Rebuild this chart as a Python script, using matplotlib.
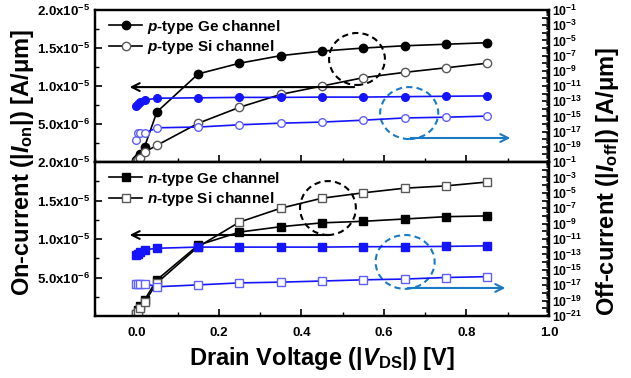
import matplotlib
matplotlib.use("Agg")
import matplotlib.pyplot as plt
from matplotlib.patches import Ellipse
from matplotlib.ticker import FixedLocator, MultipleLocator, LogLocator, NullFormatter

plt.rcParams['font.family'] = 'Liberation Sans'
plt.rcParams['font.weight'] = 'bold'
plt.rcParams['axes.labelweight'] = 'bold'
plt.rcParams['mathtext.fontset'] = 'custom'
plt.rcParams['mathtext.rm'] = 'Liberation Sans:bold'
plt.rcParams['mathtext.bf'] = 'Liberation Sans:bold'
plt.rcParams['mathtext.it'] = 'Liberation Sans:italic:bold'
plt.rcParams['mathtext.default'] = 'bf'

# drain voltage points (V)
vds = [0.0, 0.005, 0.01, 0.02, 0.05, 0.15, 0.25, 0.35, 0.45, 0.55, 0.65, 0.75, 0.85]

# p-type, on-current in units of 1e-5 A/um
p_ge_on = [0.02, 0.05, 0.10, 0.20, 0.66, 1.16, 1.30, 1.40, 1.46, 1.50, 1.53, 1.55, 1.57]
p_si_on = [0.00, 0.03, 0.05, 0.13, 0.22, 0.51, 0.72, 0.89, 1.00, 1.11, 1.18, 1.24, 1.30]
# p-type, off-current A/um
p_ge_off = [2.5e-14, 4.0e-14, 7.9e-14, 1.4e-13, 2.5e-13, 2.8e-13, 3.2e-13, 3.2e-13,
            3.5e-13, 3.5e-13, 4.0e-13, 4.5e-13, 5.0e-13]
p_si_off = [7.9e-19, 6.3e-18, 6.3e-18, 6.3e-18, 3.2e-17, 4.0e-17, 7.9e-17, 1.3e-16,
            1.8e-16, 3.2e-16, 6.3e-16, 7.9e-16, 1.1e-15]

# n-type
n_ge_on = [0.03, 0.08, 0.13, 0.21, 0.47, 0.92, 1.09, 1.16, 1.21, 1.23, 1.26, 1.29, 1.30]
n_si_on = [0.02, 0.05, 0.10, 0.18, 0.43, 0.90, 1.22, 1.40, 1.53, 1.60, 1.66, 1.69, 1.74]
n_ge_off = [7.9e-14, 1.3e-13, 2.0e-13, 4.0e-13, 6.3e-13, 8.9e-13, 8.9e-13, 8.9e-13,
            8.9e-13, 1.0e-12, 1.0e-12, 1.1e-12, 1.3e-12]
n_si_off = [1.6e-17, 1.6e-17, 1.6e-17, 1.6e-17, 6.3e-18, 1.1e-17, 2.0e-17, 2.5e-17,
            3.5e-17, 5.0e-17, 6.3e-17, 1.0e-16, 1.3e-16]

on_ticks = [0.0, 0.5, 1.0, 1.5, 2.0]
on_labels = ['', '5.0x10$^{-6}$', '1.0x10$^{-5}$', '1.5x10$^{-5}$', '2.0x10$^{-5}$']
off_exps = list(range(-21, 0))

fig = plt.figure(figsize=(6.31, 3.78), dpi=100)
ax_top = fig.add_axes([0.1506, 0.5714, 0.7195, 0.402])
ax_bot = fig.add_axes([0.1506, 0.164, 0.7195, 0.4074])

BLUE = '#1414ff'
ARROWBLUE = '#1a7ac4'


def style_panel(ax, show_x):
    ax.set_xlim(-0.1, 1.0)
    ax.set_ylim(0, 2.0)
    ax.yaxis.set_major_locator(FixedLocator(on_ticks))
    ax.set_yticklabels(on_labels, fontweight='bold')
    ax.yaxis.set_minor_locator(MultipleLocator(0.25))
    ax.xaxis.set_major_locator(MultipleLocator(0.2))
    ax.xaxis.set_minor_locator(MultipleLocator(0.1))
    ax.tick_params(axis='both', which='both', direction='in', top=False, right=False)
    ax.tick_params(axis='both', which='major', length=5, width=1.2, labelsize=9.5)
    ax.tick_params(axis='x', which='major', pad=8)
    ax.tick_params(axis='both', which='minor', length=3, width=1.0)
    if not show_x:
        ax.tick_params(axis='x', labelbottom=False)
    for t in ax.get_xticklabels():
        t.set_fontweight('bold')
    for s in ax.spines.values():
        s.set_linewidth(1.6)


def style_twin(tw, hide_bottom):
    tw.set_yscale('log')
    tw.set_ylim(1e-21, 1e-1)
    ticks = [10.0 ** e for e in off_exps]
    labels = []
    for e in off_exps:
        if e % 2 == 0 or (hide_bottom and e == -21):
            labels.append('')
        else:
            labels.append('10$^{%d}$' % e)
    tw.yaxis.set_major_locator(FixedLocator(ticks))
    tw.set_yticklabels(labels)
    tw.yaxis.set_minor_locator(LogLocator(base=10, subs=(2, 3, 4, 5, 6, 7, 8, 9), numticks=100))
    tw.yaxis.set_minor_formatter(NullFormatter())
    tw.tick_params(axis='y', which='major', direction='in', length=5, width=1.2,
                   labelsize=8.8, pad=2)
    tw.tick_params(axis='y', which='minor', direction='in', length=2, width=0.6)
    for s in tw.spines.values():
        s.set_linewidth(1.6)


# top panel (p-type)
ax_top.plot(vds, p_ge_on, color='black', lw=1.2, marker='o', ms=6,
            mfc='black', mec='black', label=r'$\mathit{p}$-type Ge channel')
ax_top.plot(vds, p_si_on, color='black', lw=1.2, marker='o', ms=6,
            mfc='white', mec='0.35', label=r'$\mathit{p}$-type Si channel')
style_panel(ax_top, False)
tw_top = ax_top.twinx()
tw_top.plot(vds, p_ge_off, color=BLUE, lw=1.2, marker='o', ms=5.5, mfc=BLUE, mec=BLUE)
tw_top.plot(vds, p_si_off, color=BLUE, lw=1.2, marker='o', ms=5.5, mfc='white', mec='#6060ff')
style_twin(tw_top, True)

# bottom panel (n-type)
ax_bot.plot(vds, n_ge_on, color='black', lw=1.2, marker='s', ms=5.5,
            mfc='black', mec='black', label=r'$\mathit{n}$-type Ge channel')
ax_bot.plot(vds, n_si_on, color='black', lw=1.2, marker='s', ms=5.5,
            mfc='white', mec='0.35', label=r'$\mathit{n}$-type Si channel')
style_panel(ax_bot, True)
tw_bot = ax_bot.twinx()
tw_bot.plot(vds, n_ge_off, color=BLUE, lw=1.2, marker='s', ms=5.5, mfc=BLUE, mec=BLUE)
tw_bot.plot(vds, n_si_off, color=BLUE, lw=1.2, marker='s', ms=5.5, mfc='white', mec='#6060ff')
style_twin(tw_bot, False)

for ax in (ax_top, ax_bot):
    ax.legend(loc='upper left', bbox_to_anchor=(0.0, 1.04), frameon=False,
              prop={'size': 11, 'weight': 'bold'}, handlelength=2.2,
              handletextpad=0.3, labelspacing=0.15)

# circles and arrows (axes fractions)
annot = [
    (tw_top, (0.577, 0.678), 0.123, 0.342, (0.577, 0.493), (0.070, 0.493),
     (0.692, 0.322), 0.128, 0.342, (0.689, 0.158), (0.921, 0.158)),
    (tw_bot, (0.513, 0.701), 0.123, 0.350, (0.522, 0.526), (0.070, 0.526),
     (0.683, 0.351), 0.130, 0.350, (0.683, 0.182), (0.910, 0.182)),
]
for tw, bc, bw, bh, bs, be, uc, uw, uh, us, ue in annot:
    tw.add_patch(Ellipse(bc, bw, bh, transform=tw.transAxes, fill=False,
                         ls=(0, (3, 2)), lw=1.5, ec='black'))
    tw.annotate('', xy=be, xytext=bs, xycoords='axes fraction',
                arrowprops=dict(arrowstyle='->', color='black', lw=1.5,
                                mutation_scale=14))
    tw.add_patch(Ellipse(uc, uw, uh, transform=tw.transAxes, fill=False,
                         ls=(0, (3, 2)), lw=1.5, ec=ARROWBLUE))
    tw.annotate('', xy=ue, xytext=us, xycoords='axes fraction',
                arrowprops=dict(arrowstyle='->', color=ARROWBLUE, lw=1.5,
                                mutation_scale=14))

ax_bot.set_xlabel(r'Drain Voltage (|$\mathit{V}_{\mathbf{DS}}$|) [V]', fontsize=17,
                  fontweight='bold', labelpad=4)
fig.text(0.035, 0.57, r'On-current (|$\mathit{I}_{\mathbf{on}}$|) [A/μm]', rotation=90,
         fontsize=17, fontweight='bold', ha='center', va='center')
fig.text(0.963, 0.52, r'Off-current (|$\mathit{I}_{\mathbf{off}}$|) [A/μm]', rotation=90,
         fontsize=17, fontweight='bold', ha='center', va='center')

fig.savefig('out.png', dpi=100)
